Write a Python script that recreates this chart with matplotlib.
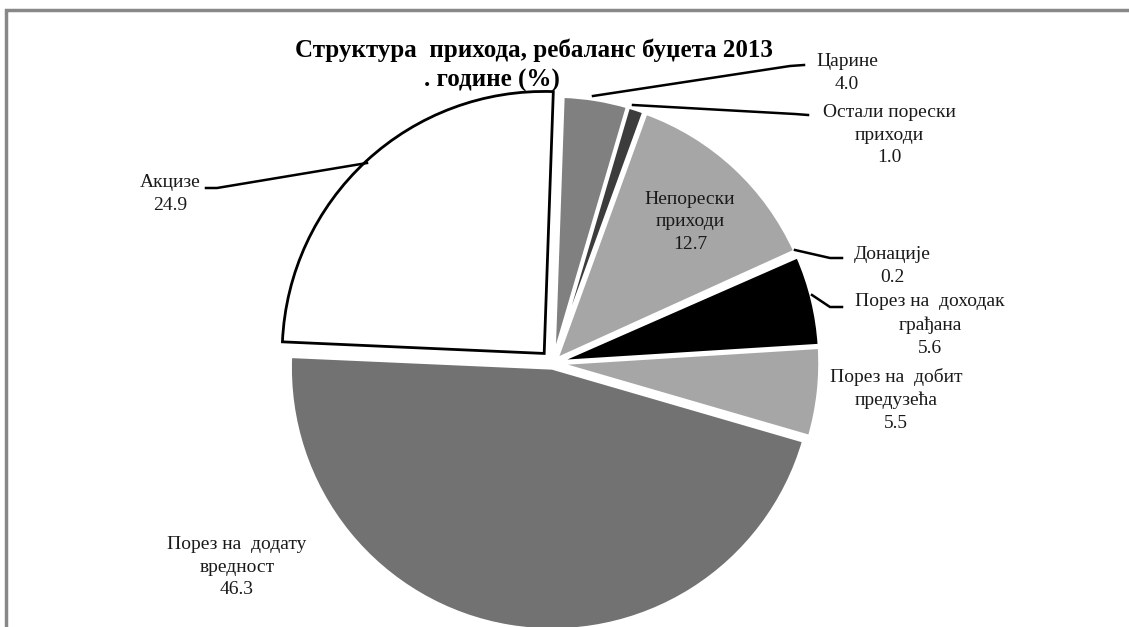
import matplotlib
matplotlib.use("Agg")
import matplotlib.pyplot as plt
from matplotlib.patches import Rectangle

plt.rcParams["font.family"] = ["Liberation Serif", "DejaVu Serif"]

# revenue structure, 2013 budget rebalance (%), clockwise from the top
categories = ["Царине", "Остали порески\nприходи", "Непорески\nприходи", "Донације",
              "Порез на  доходак\nграђана", "Порез на  добит\nпредузећа",
              "Порез на  додату\nвредност", "Акцизе"]
values = [4.0, 1.0, 12.7, 0.2, 5.6, 5.5, 46.3, 24.9]
colors = ["#808080", "#3c3c3c", "#a6a6a6", "#d8d8d8", "#000000", "#a6a6a6", "#727272", "#ffffff"]
# explode offsets in pixels (pie is drawn in pixel data units)
explode = [5, 5, 5, 5, 5, 5, 5, 13]

# label block centres (pixel coords, y from top)
label_pos = [(847, 73), (889, 135), (690, 222), (892, 266),
             (930, 325), (896, 400), (237, 567), (170, 194)]
# leader lines for outside labels (pixel coords)
leaders = {
    0: [(593, 96), (790, 66), (804, 65)],
    1: [(633, 105), (795, 114), (808, 115)],
    3: [(795, 250), (830, 258), (842, 258)],
    4: [(812, 295), (830, 307), (842, 307)],
    7: [(367, 163), (217, 188), (206, 188)],
}

W, H = 1129, 627
fig = plt.figure(figsize=(W / 100, H / 100), dpi=100)
ax = fig.add_axes([0, 0, 1, 1])

cx, cy, r = 553, 363, 262
wedges, _ = ax.pie(values, colors=colors, explode=explode, startangle=88,
                   counterclock=False, center=(cx, H - cy), radius=r,
                   wedgeprops=dict(edgecolor="white", linewidth=2.5), frame=True)
ax.set_xlim(0, W)
ax.set_ylim(0, H)
ax.set_axis_off()
wedges[-1].set_edgecolor("black")
wedges[-1].set_linewidth(2)

for i, (name, val) in enumerate(zip(categories, values)):
    x, y = label_pos[i]
    ax.text(x, H - y, f"{name}\n{val:.1f}", ha="center", va="center",
            fontsize=14, linespacing=1.45, color="#1a1a1a")

for pts in leaders.values():
    ax.plot([p[0] for p in pts], [H - p[1] for p in pts], color="black", lw=1.8)

ax.text(534, H - 50, "Структура  прихода, ребаланс буџета 2013", ha="center", va="center",
        fontsize=18, fontweight="bold")
ax.text(492, H - 80, ". године (%)", ha="center", va="center", fontsize=18, fontweight="bold")

# outer frame (only top and left edges visible in the crop)
fig.patches.append(Rectangle((6, -20), W + 20, H - 10 + 20, transform=None,
                             fill=False, edgecolor="#888888", linewidth=2.5))

fig.savefig("out.png", dpi=100)
